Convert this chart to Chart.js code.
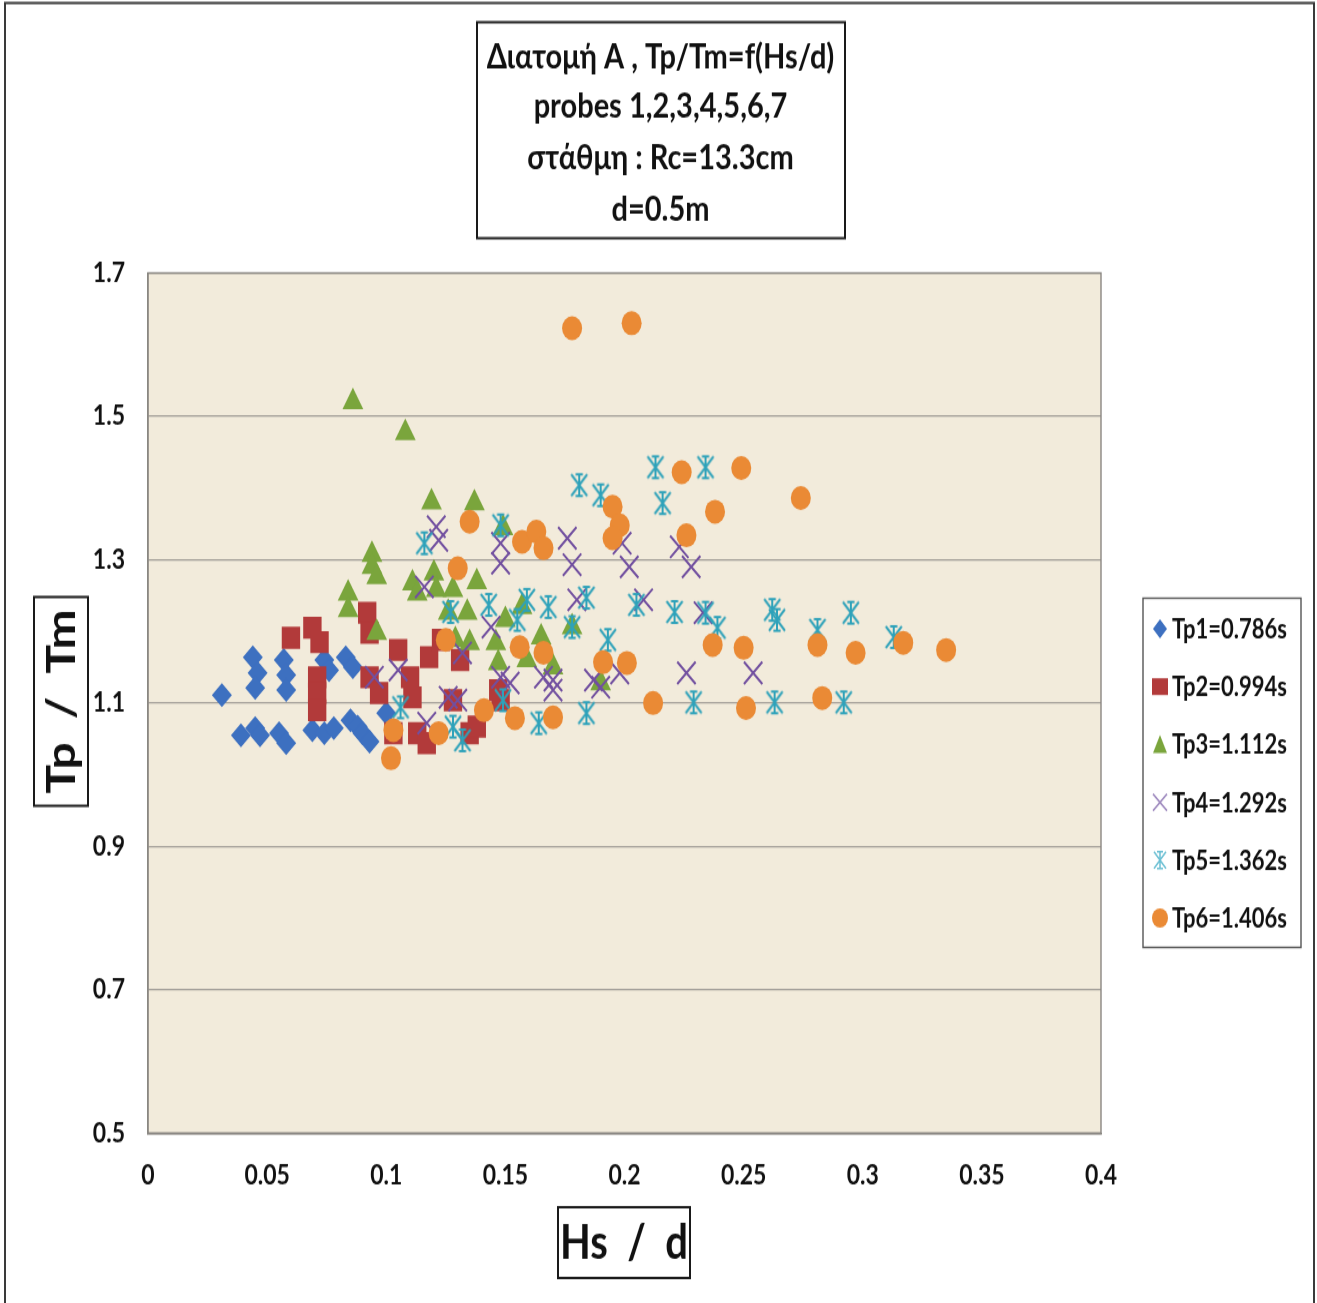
<!DOCTYPE html>
<html>
<head>
<meta charset="utf-8">
<script src="https://cdn.jsdelivr.net/npm/chart.js@4/dist/chart.umd.min.js"></script>
<style>
  html, body { margin: 0; padding: 0; background: #fff; }
  #page { width: 1317px; height: 1303px; position: relative; }
  #wrap { position: absolute; left: 0; top: 0; width: 1317px; height: 1086px; transform: scaleY(1.2); transform-origin: 0 0; }
  canvas { display: block; }
</style>
</head>
<body>
<div id="page"><div id="wrap"><canvas id="c" width="1317" height="1086"></canvas></div></div>
<script>
// ---- data: [Hs/d, Tp/Tm] pairs per wave period ----
const seriesLabels = ['Tp1=0.786s', 'Tp2=0.994s', 'Tp3=1.112s', 'Tp4=1.292s', 'Tp5=1.362s', 'Tp6=1.406s'];

const tp1 = [
  [0.031, 1.111], [0.039, 1.055], [0.045, 1.065], [0.047, 1.055], [0.044, 1.164], [0.046, 1.142],
  [0.045, 1.121], [0.057, 1.160], [0.058, 1.139], [0.058, 1.118], [0.055, 1.058], [0.058, 1.044],
  [0.069, 1.062], [0.074, 1.058], [0.078, 1.065], [0.074, 1.160], [0.076, 1.146], [0.083, 1.164],
  [0.086, 1.150], [0.085, 1.076], [0.088, 1.067], [0.090, 1.058], [0.093, 1.046], [0.100, 1.086]
];
const tp2 = [
  [0.060, 1.191], [0.069, 1.205], [0.072, 1.185], [0.071, 1.136], [0.071, 1.114], [0.071, 1.090],
  [0.092, 1.226], [0.093, 1.198], [0.093, 1.136], [0.097, 1.114], [0.105, 1.174], [0.110, 1.136],
  [0.111, 1.108], [0.103, 1.058], [0.113, 1.058], [0.117, 1.044], [0.118, 1.164], [0.123, 1.188],
  [0.131, 1.160], [0.128, 1.104], [0.135, 1.058], [0.138, 1.067], [0.148, 1.104], [0.147, 1.118]
];
const tp3 = [
  [0.086, 1.520], [0.108, 1.477], [0.119, 1.380], [0.137, 1.379], [0.149, 1.344], [0.094, 1.307],
  [0.094, 1.290], [0.096, 1.276], [0.084, 1.253], [0.084, 1.230], [0.096, 1.198], [0.111, 1.267],
  [0.113, 1.253], [0.120, 1.281], [0.121, 1.258], [0.128, 1.258], [0.126, 1.226], [0.129, 1.188],
  [0.134, 1.226], [0.138, 1.269], [0.150, 1.216], [0.157, 1.234], [0.135, 1.184], [0.146, 1.184],
  [0.165, 1.192], [0.147, 1.156], [0.159, 1.160], [0.170, 1.150], [0.178, 1.206], [0.190, 1.128]
];
const tp4 = [
  [0.121, 1.346], [0.122, 1.327], [0.148, 1.323], [0.148, 1.295], [0.176, 1.330], [0.178, 1.293],
  [0.199, 1.323], [0.202, 1.290], [0.116, 1.262], [0.180, 1.244], [0.208, 1.244], [0.144, 1.206],
  [0.132, 1.170], [0.148, 1.136], [0.152, 1.128], [0.126, 1.108], [0.130, 1.104], [0.166, 1.136],
  [0.170, 1.132], [0.170, 1.118], [0.187, 1.132], [0.190, 1.122], [0.198, 1.142], [0.223, 1.318],
  [0.228, 1.290], [0.233, 1.226], [0.226, 1.142], [0.254, 1.142], [0.095, 1.136], [0.105, 1.146],
  [0.117, 1.072]
];
const tp5 = [
  [0.181, 1.404], [0.190, 1.390], [0.213, 1.429], [0.234, 1.429], [0.216, 1.379], [0.116, 1.323],
  [0.148, 1.348], [0.127, 1.227], [0.143, 1.237], [0.159, 1.244], [0.168, 1.234], [0.184, 1.247],
  [0.205, 1.237], [0.221, 1.227], [0.234, 1.226], [0.239, 1.205], [0.262, 1.230], [0.264, 1.216],
  [0.281, 1.202], [0.295, 1.226], [0.313, 1.192], [0.155, 1.216], [0.193, 1.188], [0.178, 1.206],
  [0.149, 1.104], [0.184, 1.086], [0.164, 1.072], [0.132, 1.048], [0.128, 1.067], [0.106, 1.094],
  [0.229, 1.101], [0.263, 1.101], [0.292, 1.101]
];
const tp6 = [
  [0.178, 1.623], [0.203, 1.630], [0.135, 1.353], [0.157, 1.325], [0.163, 1.339], [0.166, 1.316],
  [0.195, 1.374], [0.198, 1.348], [0.195, 1.330], [0.224, 1.422], [0.249, 1.428], [0.274, 1.386],
  [0.238, 1.367], [0.226, 1.334], [0.130, 1.288], [0.125, 1.188], [0.156, 1.178], [0.166, 1.170],
  [0.191, 1.157], [0.201, 1.156], [0.237, 1.181], [0.250, 1.177], [0.281, 1.181], [0.297, 1.170],
  [0.317, 1.184], [0.335, 1.174], [0.212, 1.100], [0.251, 1.093], [0.283, 1.107], [0.141, 1.090],
  [0.154, 1.079], [0.170, 1.080], [0.122, 1.058], [0.103, 1.062], [0.102, 1.023]
];

const xTicks = [0, 0.05, 0.1, 0.15, 0.2, 0.25, 0.3, 0.35, 0.4];
const xTickLabels = ['0', '0.05', '0.1', '0.15', '0.2', '0.25', '0.3', '0.35', '0.4'];
const yTicks = [0.5, 0.7, 0.9, 1.1, 1.3, 1.5, 1.7];
const yTickLabels = ['0.5', '0.7', '0.9', '1.1', '1.3', '1.5', '1.7'];

const titleLines = ['Διατομή A , Tp/Tm=f(Hs/d)', 'probes 1,2,3,4,5,6,7', 'στάθμη : Rc=13.3cm', 'd=0.5m'];
const xTitle = 'Hs  /  d';
const yTitle = 'Tp  /  Tm';

// ---- styling ----
const FONT = 'Lato, "Noto Sans", sans-serif';
const colors = ['#3d70c0', '#b23a3a', '#7aa53c', '#7250a0', '#2ea2ba', '#ea8a35'];

function asteriskMarker(color, w, h, lw) {
  const c = document.createElement('canvas');
  c.width = w + 4; c.height = h + 4;
  const g = c.getContext('2d');
  g.strokeStyle = color; g.lineWidth = lw;
  const cx = c.width / 2, cy = c.height / 2, hw = w / 2, hh = h / 2;
  g.beginPath();
  g.moveTo(cx - hw, cy - hh); g.lineTo(cx + hw, cy + hh);
  g.moveTo(cx + hw, cy - hh); g.lineTo(cx - hw, cy + hh);
  g.moveTo(cx, cy - hh); g.lineTo(cx, cy + hh);
  g.moveTo(cx - hw * 0.45, cy - hh); g.lineTo(cx + hw * 0.45, cy - hh);
  g.moveTo(cx - hw * 0.45, cy + hh); g.lineTo(cx + hw * 0.45, cy + hh);
  g.stroke();
  return c;
}
const starMarker = asteriskMarker(colors[4], 16, 18, 2);

const toPts = arr => arr.map(p => ({ x: p[0], y: p[1] }));

const datasets = [
  { label: seriesLabels[0], data: toPts(tp1), pointStyle: 'rectRot', pointRadius: 10, backgroundColor: colors[0], borderColor: colors[0], borderWidth: 0 },
  { label: seriesLabels[1], data: toPts(tp2), pointStyle: 'rect', pointRadius: 13, backgroundColor: colors[1], borderColor: colors[1], borderWidth: 0 },
  { label: seriesLabels[2], data: toPts(tp3), pointStyle: 'triangle', pointRadius: 12, backgroundColor: colors[2], borderColor: colors[2], borderWidth: 0 },
  { label: seriesLabels[3], data: toPts(tp4), pointStyle: 'crossRot', pointRadius: 13, backgroundColor: colors[3], borderColor: colors[3], borderWidth: 2 },
  { label: seriesLabels[4], data: toPts(tp5), pointStyle: starMarker, pointRadius: 10, backgroundColor: colors[4], borderColor: colors[4], borderWidth: 2 },
  { label: seriesLabels[5], data: toPts(tp6), pointStyle: 'circle', pointRadius: 10, backgroundColor: colors[5], borderColor: colors[5], borderWidth: 0 }
].map((d, i) => Object.assign(d, { order: 5 - i, pointHoverRadius: d.pointRadius }));

// small legend glyphs
function legendMarker(g, i, x, y) {
  g.save();
  g.fillStyle = colors[i]; g.strokeStyle = colors[i];
  g.beginPath();
  switch (i) {
    case 0: g.moveTo(x, y - 8); g.lineTo(x + 7, y); g.lineTo(x, y + 8); g.lineTo(x - 7, y); g.closePath(); g.fill(); break;
    case 1: g.rect(x - 8, y - 7, 16, 14); g.fill(); break;
    case 2: g.moveTo(x, y - 8); g.lineTo(x + 7, y + 7); g.lineTo(x - 7, y + 7); g.closePath(); g.fill(); break;
    case 3: g.strokeStyle = '#a08cc0'; g.lineWidth = 1.5; g.moveTo(x - 7, y - 7); g.lineTo(x + 7, y + 7); g.moveTo(x + 7, y - 7); g.lineTo(x - 7, y + 7); g.stroke(); break;
    case 4: g.strokeStyle = '#6cc0d4'; g.lineWidth = 1.5;
      g.moveTo(x - 6, y - 7); g.lineTo(x + 6, y + 7); g.moveTo(x + 6, y - 7); g.lineTo(x - 6, y + 7);
      g.moveTo(x, y - 7); g.lineTo(x, y + 7); g.moveTo(x - 3, y - 7); g.lineTo(x + 3, y - 7); g.moveTo(x - 3, y + 7); g.lineTo(x + 3, y + 7);
      g.stroke(); break;
    case 5: g.arc(x, y, 8, 0, Math.PI * 2); g.fill(); break;
  }
  g.restore();
}

const decor = {
  id: 'decor',
  beforeDraw(chart) {
    const g = chart.ctx, a = chart.chartArea;
    g.save();
    g.fillStyle = '#ffffff';
    g.fillRect(0, 0, chart.width, chart.height);
    g.fillStyle = '#f2ebdb';
    g.fillRect(a.left, a.top, a.right - a.left, a.bottom - a.top);
    g.restore();
  },
  afterDraw(chart) {
    const g = chart.ctx, a = chart.chartArea;
    g.save();
    // plot frame
    g.strokeStyle = '#8a8782'; g.lineWidth = 1.4;
    g.strokeRect(a.left, a.top, a.right - a.left, a.bottom - a.top);
    // outer frame
    g.strokeStyle = '#3a3a3a'; g.lineWidth = 2;
    g.strokeRect(5, 2.5, 1309, 1200);

    // title box
    g.fillStyle = '#fff';
    g.fillRect(477, 18.5, 368, 180);
    g.strokeStyle = '#1a1a1a'; g.lineWidth = 2;
    g.strokeRect(477, 18.5, 368, 180);
    g.fillStyle = '#111';
    g.textAlign = 'center'; g.textBaseline = 'middle';
    g.font = 'bold 29px ' + FONT;
    const ty = [47.5, 88.5, 131.5, 175];
    titleLines.forEach((t, i) => g.fillText(t, 660.5, ty[i]));

    // y axis title box
    g.fillStyle = '#fff';
    g.fillRect(34, 497.5, 54, 174);
    g.strokeRect(34, 497.5, 54, 174);
    g.save();
    g.translate(61, 584.5);
    g.rotate(-Math.PI / 2);
    g.fillStyle = '#111';
    g.font = 'bold 40px ' + FONT;
    g.fillText(yTitle, 0, 1);
    g.restore();

    // x axis title box
    g.fillStyle = '#fff';
    g.fillRect(558, 1006, 132, 59);
    g.strokeRect(558, 1006, 132, 59);
    g.fillStyle = '#111';
    g.font = 'bold 40px ' + FONT;
    g.fillText(xTitle, 624, 1036);

    // legend
    g.fillStyle = '#fff';
    g.fillRect(1143, 498.5, 158, 291);
    g.strokeStyle = '#555'; g.lineWidth = 1.4;
    g.strokeRect(1143, 498.5, 158, 291);
    g.textAlign = 'left';
    g.font = 'bold 22px ' + FONT;
    chart.data.datasets.forEach((ds, i) => {
      const y = 524 + i * 48.2;
      legendMarker(g, i, 1160, y);
      g.fillStyle = '#111';
      g.fillText(ds.label, 1172, y + 1);
    });
    g.restore();
  }
};

new Chart(document.getElementById('c'), {
  type: 'scatter',
  data: { datasets },
  options: {
    responsive: false,
    animation: false,
    devicePixelRatio: 1,
    layout: { padding: { left: 0, top: 227.5, right: 216, bottom: 0 } },
    plugins: { legend: { display: false }, tooltip: { enabled: false }, title: { display: false } },
    scales: {
      x: {
        type: 'linear', min: 0, max: 0.4,
        afterBuildTicks: s => { s.ticks = xTicks.map(v => ({ value: v })); },
        afterFit: s => { s.height = 1086 - 944.2; },
        grid: { display: false, drawTicks: false },
        border: { display: true, color: '#8a8782', width: 1.4 },
        ticks: {
          autoSkip: false, maxRotation: 0, padding: 22, color: '#111',
          font: { family: FONT, weight: 'bold', size: 23 },
          callback: (v, i) => xTickLabels[i]
        }
      },
      y: {
        type: 'linear', min: 0.5, max: 1.7,
        afterBuildTicks: s => { s.ticks = yTicks.map(v => ({ value: v })); },
        afterFit: s => { s.width = 148; },
        grid: { color: '#a29e98', lineWidth: 1.3, drawTicks: false },
        border: { display: true, color: '#8a8782', width: 1.4 },
        ticks: {
          autoSkip: false, padding: 23, color: '#111',
          font: { family: FONT, weight: 'bold', size: 23 },
          callback: (v, i) => yTickLabels[i]
        }
      }
    }
  },
  plugins: [decor]
});
</script>
</body>
</html>
